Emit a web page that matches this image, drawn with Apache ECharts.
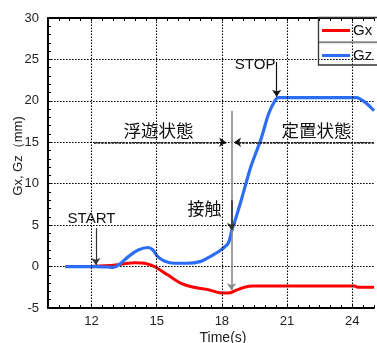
<!DOCTYPE html>
<html>
<head>
<meta charset="utf-8">
<script src="https://cdn.jsdelivr.net/npm/echarts@6/dist/echarts.min.js"></script>
<style>
  html, body { margin: 0; padding: 0; background: #fff; }
  #chart { width: 377px; height: 343px; }
</style>
</head>
<body>
<div id="chart"></div>
<script>
// Axis ticks
const xTicks = [12, 15, 18, 21, 24];
const xRange = [10, 25];
const yRange = [-5, 30];

// Gx displacement (mm) over time (s)
const gxTime   = [10.8, 11.5, 12.2, 13.0, 13.5, 14.0, 14.45, 14.9, 15.5, 16.1, 16.7, 17.3, 17.9, 18.3, 18.66, 19.04, 19.42, 20.0, 22.0, 24.1, 24.25, 25.0];
const gxValues = [0, 0, 0.05, 0.15, 0.35, 0.47, 0.4, 0, -1.0, -2.0, -2.5, -2.75, -3.15, -3.2, -2.85, -2.5, -2.35, -2.35, -2.35, -2.35, -2.5, -2.5];

// Gz displacement (mm) over time (s)
const gzTime   = [10.8, 11.5, 12.2, 12.7, 13.0, 13.25, 13.7, 14.15, 14.6, 14.83, 15.05, 15.35, 15.8, 16.4, 17.0, 17.46, 17.9, 18.29, 18.44, 18.66, 18.89, 19.34, 19.79, 20.16, 20.46, 20.6, 21.5, 23.0, 24.2, 24.6, 24.82, 25.0];
const gzValues = [0, 0, 0, -0.05, -0.1, 0.2, 1.2, 2.0, 2.3, 2.0, 1.2, 0.68, 0.4, 0.4, 0.6, 1.2, 1.9, 2.8, 4.2, 6.0, 8.0, 12.1, 15.3, 18.5, 20.1, 20.4, 20.4, 20.4, 20.4, 19.8, 19.3, 18.8];

// Event annotations: [time, value] anchors
const startLabel = { text: 'START', at: [12.0, 5.8] };
const startArrow = [[12.2, 4.65], [12.2, 0.2]];
const stopLabel  = { text: 'STOP', at: [19.53, 24.4] };
const stopArrow  = [[20.52, 24.7], [20.52, 20.5]];
const contactLabel = { text: '接触', at: [17.2, 7.0] };
const contactTime = 18.44;
const contactLine = [18.8, -2.85];
const contactGzArrow = [8.0, 4.4];
const phaseLevel = 15;
const floatLabel = { text: '浮遊状態', at: [15.09, 16.5] };
const fixedLabel = { text: '定置状態', at: [22.36, 16.5] };
const floatArrow = [12.12, 18.2];
const fixedArrow = [25.0, 18.56];

const pair = (ts, vs) => ts.map((t, i) => [t, vs[i]]);

const latin = 'Liberation Sans, Arial, sans-serif';
const cjk = 'Noto Sans CJK JP, sans-serif';
const dotted = [1.6, 1.4];

const chart = echarts.init(document.getElementById('chart'), null, { renderer: 'canvas' });

const textPoint = (lbl, font, size) => ({
  coord: lbl.at, name: lbl.text, symbol: 'circle', symbolSize: 0,
  label: { show: true, position: 'inside', formatter: '{b}', color: '#111', fontFamily: font, fontSize: size }
});

chart.setOption({
  animation: false,
  grid: { left: 48, right: -4, top: 18, bottom: 35 },
  legend: {
    data: ['Gx', 'Gz'], orient: 'vertical', left: 322, top: 23,
    icon: 'rect', itemWidth: 28, itemHeight: 3, itemGap: 10,
    textStyle: { fontFamily: latin, fontSize: 15, color: '#111', padding: [0, 0, 0, -2] },
    padding: 0
  },
  xAxis: [{
    type: 'value', min: xRange[0], max: xRange[1], interval: 0.5,
    axisLine: { show: true, onZero: false, lineStyle: { color: '#000', width: 2 } },
    axisTick: { show: true, inside: true, length: 3, lineStyle: { color: '#000', width: 1 } },
    axisLabel: {
      margin: 7, color: '#222', fontFamily: latin, fontSize: 13,
      formatter: v => (xTicks.includes(v) ? String(v) : '')
    },
    splitLine: { show: false }
  }, {
    type: 'value', position: 'top', min: xRange[0], max: xRange[1], interval: 0.5,
    axisLine: { show: true, onZero: false, lineStyle: { color: '#000', width: 2 } },
    axisTick: { show: true, inside: true, length: 3, lineStyle: { color: '#000', width: 1 } },
    axisLabel: { show: false }, splitLine: { show: false }
  }],
  yAxis: [{
    type: 'value', min: yRange[0], max: yRange[1], interval: 5,
    axisLine: { show: true, onZero: false, lineStyle: { color: '#000', width: 2 } },
    axisTick: { show: true, inside: true, length: 4, lineStyle: { color: '#000', width: 1 } },
    minorTick: { show: true, splitNumber: 5, length: 3, lineStyle: { color: '#000', width: 1 } },
    axisLabel: { margin: 9, color: '#222', fontFamily: latin, fontSize: 13 },
    splitLine: { show: true, lineStyle: { color: '#000', width: 1.1, type: dotted } }
  }],
  series: [
    {
      // vertical grid lines at the labelled times
      type: 'line', data: [], silent: true, z: 1,
      markLine: {
        silent: true, symbol: ['none', 'none'], label: { show: false },
        lineStyle: { color: '#000', width: 1.1, type: dotted },
        data: xTicks.map(t => ({ xAxis: t }))
      }
    },
    {
      name: 'Gx', type: 'line', data: pair(gxTime, gxValues), smooth: 0.3,
      showSymbol: false, z: 3, color: '#ff0000',
      lineStyle: { color: '#ff0000', width: 3 }
    },
    {
      name: 'Gz', type: 'line', data: pair(gzTime, gzValues), smooth: 0.3,
      showSymbol: false, z: 4, color: '#2b6ef5',
      lineStyle: { color: '#2b6ef5', width: 3.2 }
    },
    {
      // event arrows and labels
      type: 'line', data: [], silent: true, z: 6,
      markLine: {
        silent: true, symbol: ['none', 'arrow'], symbolSize: 7, label: { show: false },
        emphasis: { disabled: true },
        data: [
          [{ coord: startArrow[0], lineStyle: { color: '#333', width: 1.2, type: 'solid' } }, { coord: startArrow[1] }],
          [{ coord: stopArrow[0], lineStyle: { color: '#111', width: 1.2, type: 'solid' } }, { coord: stopArrow[1] }],
          [{ coord: [contactTime, contactLine[0]], lineStyle: { color: '#8a8a8a', width: 1.6, type: 'solid' } }, { coord: [contactTime, contactLine[1]] }],
          [{ coord: [contactTime, contactGzArrow[0]], lineStyle: { color: '#333', width: 1.6, type: 'solid' } }, { coord: [contactTime, contactGzArrow[1]] }],
          [{ coord: [floatArrow[0], phaseLevel], lineStyle: { color: '#111', width: 1.6, type: [2.5, 1] } }, { coord: [floatArrow[1], phaseLevel] }],
          [{ coord: [fixedArrow[0], phaseLevel], lineStyle: { color: '#111', width: 1.6, type: [2.5, 1] } }, { coord: [fixedArrow[1], phaseLevel] }]
        ]
      },
      markPoint: {
        silent: true,
        data: [
          textPoint(startLabel, latin, 15),
          textPoint(stopLabel, latin, 15),
          textPoint(contactLabel, cjk, 17),
          textPoint(floatLabel, cjk, 17.5),
          textPoint(fixedLabel, cjk, 17.5)
        ]
      }
    }
  ],
  graphic: [
    {
      type: 'rect', silent: true, z: 10,
      shape: { x: 318.5, y: 17.5, width: 70, height: 47.5 },
      style: { fill: 'rgba(0,0,0,0)', stroke: '#333', lineWidth: 1.3 }
    },
    {
      type: 'line', silent: true, z: 10,
      shape: { x1: 319, y1: 42.3, x2: 377, y2: 42.3 },
      style: { stroke: '#888', lineWidth: 2 }
    },
    {
      type: 'text', silent: true, x: 18, y: 156, rotation: Math.PI / 2,
      style: { text: 'Gx, Gz（mm)', fontFamily: latin, fontSize: 13, fill: '#222', align: 'center', verticalAlign: 'middle' }
    },
    {
      type: 'text', silent: true, x: 223, y: 331,
      style: { text: 'Time(s)', fontFamily: latin, fontSize: 14, fill: '#222', align: 'center', verticalAlign: 'top' }
    }
  ]
});
</script>
</body>
</html>
